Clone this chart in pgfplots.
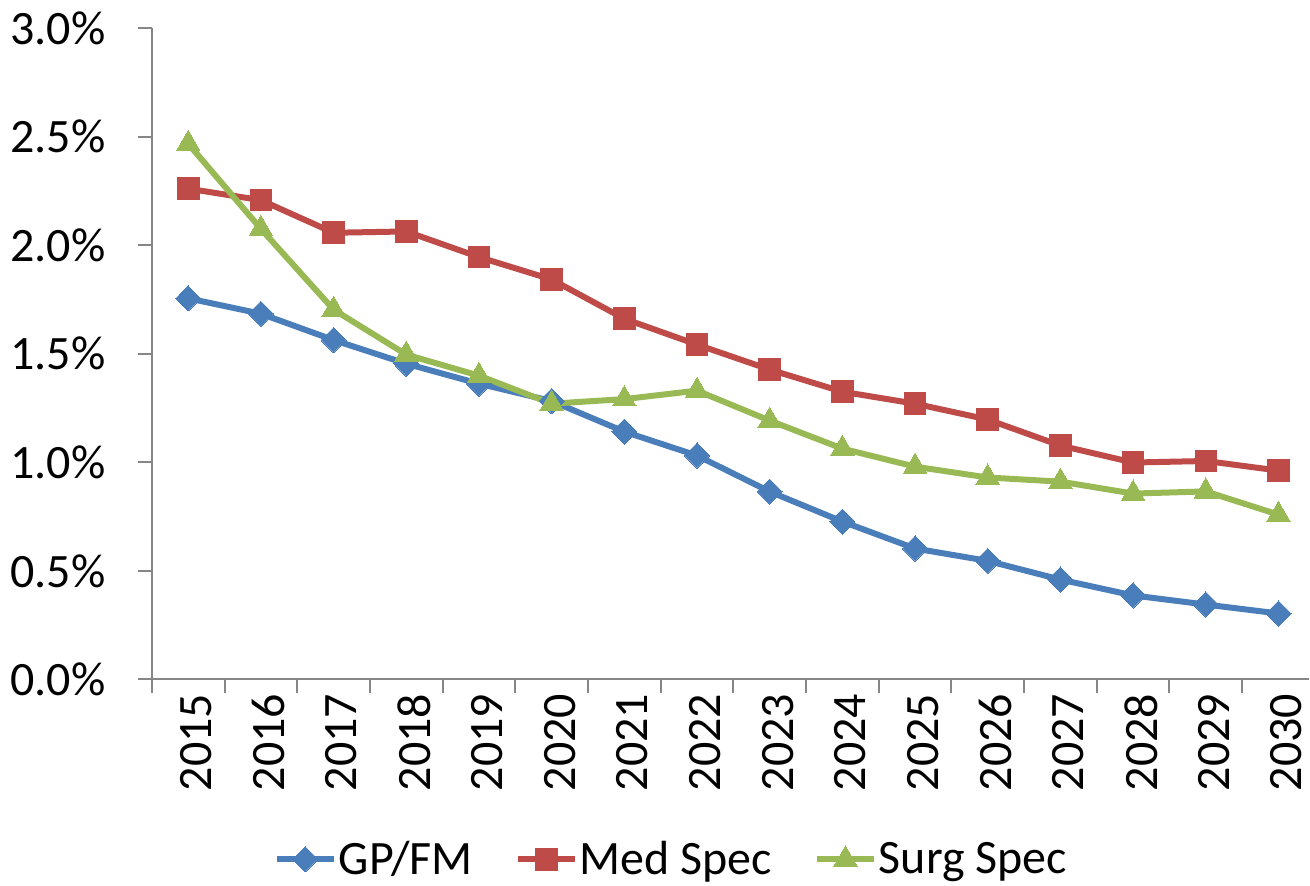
\documentclass[border=0pt]{standalone}
\usepackage{fontspec}
\setmainfont{Carlito}
\usepackage{pgfplots}
\pgfplotsset{compat=1.18}
\definecolor{gpblue}{HTML}{4A7EBB}
\definecolor{medred}{HTML}{BE4B48}
\definecolor{surggreen}{HTML}{98B954}
\definecolor{axgray}{HTML}{868686}

\begin{document}
\begin{tikzpicture}
\begin{axis}[
  name=ax,
  scale only axis,
  width=579pt, height=326pt,
  xmin=-0.5, xmax=15.42,
  ymin=0, ymax=3,
  clip=false,
  axis x line*=bottom, axis y line*=left,
  axis line style={draw=axgray, line width=1pt},
  font=\fontsize{24}{28}\selectfont,
  /pgf/number format/assume math mode=true,
  ytick={0,0.5,...,3},
  yticklabel={\pgfmathprintnumber[fixed,fixed zerofill,precision=1]{\tick}\%},
  y tick label style={inner sep=0pt, xshift=-16pt},
  xtick={0,...,15},
  xticklabels={2015,2016,2017,2018,2019,2020,2021,2022,2023,2024,2025,2026,2027,2028,2029,2030},
  x tick label style={rotate=90, anchor=east, inner sep=0pt, yshift=-4pt},
  major x tick style={draw=none},
  minor xtick={-0.5,0.5,...,14.5},
  minor x tick style={draw=axgray, line width=1pt},
  minor tick length=7pt,
  major tick length=7pt,
  y tick style={draw=axgray, line width=1pt},
  tick align=outside,
  tick pos=left,
  every axis plot/.append style={line width=3pt},
  legend columns=3,
  legend style={at={(axis description cs:0.449,-0.276)}, anchor=center, draw=none, fill=none,
    nodes={inner sep=1pt}, column sep=0pt,
    /tikz/every even column/.append style={column sep=20pt}},
  legend image code/.code={\draw[mark repeat=2,mark phase=2,#1] plot coordinates {(0pt,0pt) (14.25pt,0pt) (28.5pt,0pt)};},
]
\addplot[gpblue, mark=diamond*, mark size=6.3pt, mark options={xscale=1.33, line width=0pt}] coordinates {
 (0,1.755) (1,1.684) (2,1.563) (3,1.454) (4,1.362) (5,1.282) (6,1.141) (7,1.031)
 (8,0.865) (9,0.727) (10,0.603) (11,0.546) (12,0.460) (13,0.387) (14,0.345) (15,0.304)};
\addlegendentry{GP/FM}
\addplot[medred, mark=square*, mark size=5.4pt, mark options={line width=0pt}] coordinates {
 (0,2.260) (1,2.207) (2,2.057) (3,2.063) (4,1.945) (5,1.842) (6,1.661) (7,1.542)
 (8,1.427) (9,1.325) (10,1.270) (11,1.197) (12,1.077) (13,0.999) (14,1.006) (15,0.962)};
\addlegendentry{Med Spec}
\addplot[surggreen, mark=triangle*, mark size=6.8pt, mark options={line width=0pt}] coordinates {
 (0,2.467) (1,2.075) (2,1.703) (3,1.496) (4,1.399) (5,1.270) (6,1.291) (7,1.330)
 (8,1.192) (9,1.063) (10,0.980) (11,0.930) (12,0.911) (13,0.856) (14,0.866) (15,0.759)};
\addlegendentry{Surg Spec}
\end{axis}
\path ([xshift=-76pt,yshift=-103pt]ax.south west) rectangle ([yshift=14pt]ax.north east);
\end{tikzpicture}
\end{document}
